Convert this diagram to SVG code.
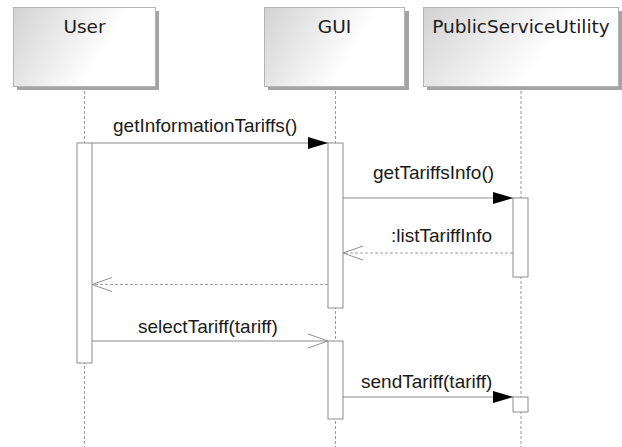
<svg xmlns="http://www.w3.org/2000/svg" width="622" height="447" viewBox="0 0 622 447">
<style>
.hdr{stroke:#b4b4b4;stroke-width:1;fill:url(#g)}
.sh{fill:#a4a4a4}
.ht{font-family:"DejaVu Sans",sans-serif;font-size:18.5px;fill:#1a1a1a;text-anchor:middle}
.life{stroke:#9a9a9a;stroke-width:1;stroke-dasharray:3,2;fill:none}
.act{fill:#fff;stroke:#8c8c8c;stroke-width:1}
.msg{stroke:#8c8c8c;stroke-width:1;fill:none}
.ret{stroke:#a0a0a0;stroke-width:1;stroke-dasharray:3,2;fill:none}
.lbl{font-family:"Liberation Sans",Arial,sans-serif;font-size:19px;fill:#1a1a1a}
</style>
<defs>
<linearGradient id="g" x1="0" y1="0" x2="0.75" y2="0.25">
<stop offset="0" stop-color="#d2d2d2"/>
<stop offset="1" stop-color="#ffffff"/>
</linearGradient>
<marker id="fill" viewBox="0 0 20 12" refX="20" refY="6" markerWidth="20" markerHeight="12" markerUnits="userSpaceOnUse" orient="auto">
<path d="M0,0 L20,6 L0,12 Z" fill="#000"/>
</marker>
<marker id="open" viewBox="0 0 22 16" refX="21" refY="8" markerWidth="22" markerHeight="16" markerUnits="userSpaceOnUse" orient="auto">
<path d="M1,1 L21,8 L1,15" fill="none" stroke="#909090" stroke-width="1"/>
</marker>
</defs>

<g id="lifelines">
<line class="life" x1="84.5" y1="86" x2="84.5" y2="447"/>
<line class="life" x1="335.5" y1="86" x2="335.5" y2="447"/>
<line class="life" x1="521" y1="86" x2="521" y2="447"/>
</g>

<g id="User">
<rect class="sh" x="17" y="11" width="142" height="79"/>
<rect class="hdr" x="13.5" y="7.5" width="142" height="79"/>
<text class="ht" x="84.5" y="33">User</text>
<rect class="act" x="77" y="143" width="15" height="220"/>
</g>

<g id="GUI">
<rect class="sh" x="268" y="11" width="141" height="79"/>
<rect class="hdr" x="264.5" y="7.5" width="140" height="79"/>
<text class="ht" x="334.5" y="33">GUI</text>
<rect class="act" x="328" y="143" width="15" height="165"/>
<rect class="act" x="328" y="341" width="15" height="78"/>
</g>

<g id="PublicServiceUtility">
<rect class="sh" x="427" y="11" width="196" height="79"/>
<rect class="hdr" x="423.5" y="7.5" width="195" height="79"/>
<text class="ht" x="521" y="33">PublicServiceUtility</text>
<rect class="act" x="513" y="198" width="15" height="79"/>
<rect class="act" x="513" y="397" width="15" height="15"/>
</g>

<g id="connectors">
<line class="msg" x1="92" y1="143" x2="328" y2="143" marker-end="url(#fill)"/>
<text class="lbl" x="113" y="132">getInformationTariffs()</text>
<line class="msg" x1="343" y1="198" x2="513" y2="198" marker-end="url(#fill)"/>
<text class="lbl" x="373" y="179">getTariffsInfo()</text>
<line class="ret" x1="513" y1="253" x2="343" y2="253" marker-end="url(#open)"/>
<text class="lbl" x="391" y="242">:listTariffInfo</text>
<line class="ret" x1="328" y1="284.5" x2="92" y2="284.5" marker-end="url(#open)"/>
<line class="msg" x1="92" y1="341" x2="328" y2="341" marker-end="url(#open)"/>
<text class="lbl" x="138" y="333">selectTariff(tariff)</text>
<line class="msg" x1="343" y1="397" x2="513" y2="397" marker-end="url(#fill)"/>
<text class="lbl" x="361" y="388">sendTariff(tariff)</text>
</g>
</svg>
